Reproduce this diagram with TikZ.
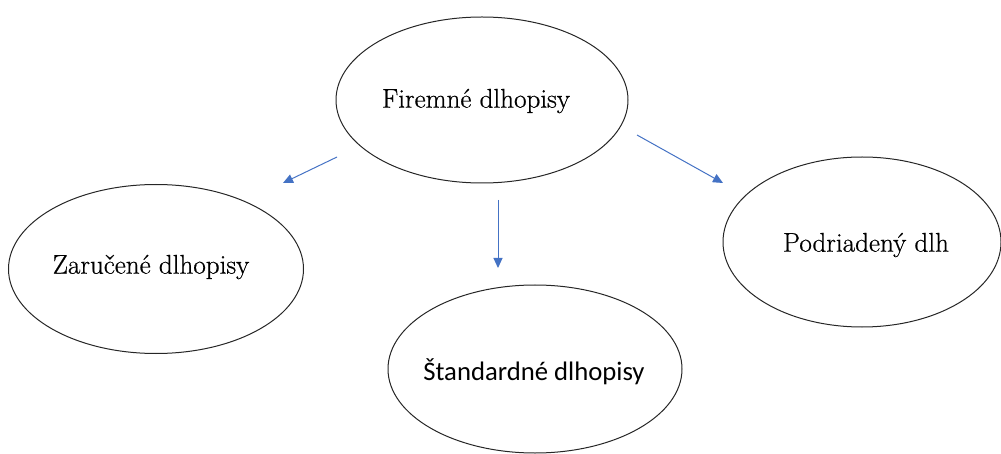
\documentclass[tikz,border=0pt]{standalone}
\usepackage{fontspec}
\newfontfamily\romanfont{Latin Modern Roman}[FakeBold=0.6]
\newfontfamily\calibrifont{Carlito}
\usetikzlibrary{shapes.geometric,arrows.meta}
\definecolor{arrowblue}{HTML}{4472C4}
\begin{document}
\begin{tikzpicture}[x=1pt,y=-1pt,
  oval/.style={draw=black!85, line width=1pt, ellipse, inner sep=0pt},
  serifText/.style={inner sep=0pt, font=\romanfont\fontsize{27.1}{30}\selectfont},
  sansText/.style={inner sep=0pt, font=\calibrifont\fontsize{26.7}{30}\selectfont},
  link/.style={draw=arrowblue, line width=1pt, -{Triangle[length=10pt,width=9pt]}}]
\useasboundingbox (0,0) rectangle (1001,454);
\node[oval, minimum width=292pt, minimum height=166pt] (firm) at (482,100) {};
\node[serifText] (firmT) at (476,101) {Firemné dlhopisy};
\node[oval, minimum width=295pt, minimum height=169pt] (zar) at (156,269) {};
\node[serifText] (zarT) at (151,267) {Zaručené dlhopisy};
\node[oval, minimum width=294pt, minimum height=168pt] (std) at (535,369) {};
\node[sansText] (stdT) at (534,372) {Štandardné dlhopisy};
\node[oval, minimum width=278pt, minimum height=170pt] (pod) at (862,242) {};
\node[serifText] (podT) at (866,245) {Podriadený dlh};
\coordinate (a1s) at (337,157);
\coordinate (a1e) at (283,183);
\coordinate (a2s) at (498,200);
\coordinate (a2e) at (498,268);
\coordinate (a3s) at (637,135);
\coordinate (a3e) at (723,183);
\draw[link] (a1s) -- (a1e);
\draw[link] (a2s) -- (a2e);
\draw[link] (a3s) -- (a3e);
\end{tikzpicture}
\end{document}
